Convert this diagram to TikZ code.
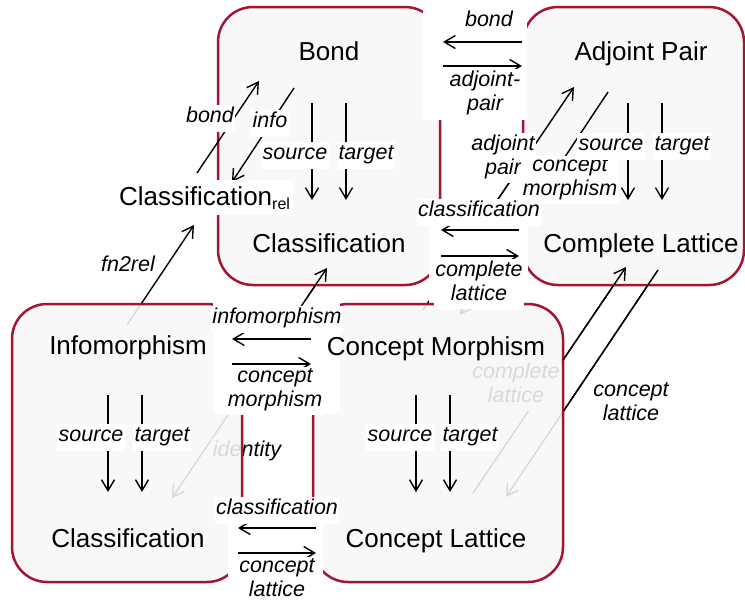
\documentclass[tikz,border=0pt]{standalone}
\usepackage{fontspec}
\setmainfont{Liberation Sans}
\usetikzlibrary{arrows.meta,calc}
\definecolor{boxred}{RGB}{165,20,50}
\tikzset{
  >={Straight Barb[length=11pt,width=13pt]},
  box/.style={draw=boxred, line width=2.5pt, rounded corners=35pt, fill=black!3, fill opacity=0.88, inner sep=0pt, outer sep=0pt},
  big/.style={font=\fontsize{26}{30}\selectfont, anchor=base, inner sep=0pt},
  lbl/.style={font=\fontsize{21.5}{24}\selectfont\itshape, fill=white, inner sep=1.5pt, align=center,
              execute at begin node=\strut, execute at end node=\strut},
  arr/.style={line width=1.4pt, ->},
  ln/.style={line width=1.4pt},
  gap/.style={fill=white, draw=none, inner sep=0pt, outer sep=0pt, anchor=north west},
}
\begin{document}
\begin{tikzpicture}[x=1pt,y=-1pt]
\useasboundingbox (0,0) rectangle (745,606);

% end points of the diagonal connectors
\coordinate (f0) at (127,325); \coordinate (f1) at (194,225);
\coordinate (b0) at (197,173); \coordinate (b1) at (259,81);
\coordinate (i0) at (294,88);  \coordinate (i1) at (232,182);
\coordinate (d0) at (172,498); \coordinate (d1) at (327,268);
\coordinate (a0) at (423,310); \coordinate (a1) at (574,87);
\coordinate (c0) at (608,92);  \coordinate (c1) at (460,315);
\coordinate (l0) at (473,493); \coordinate (l1) at (626,267);
\coordinate (k0) at (658,270); \coordinate (k1) at (506,497);

% connectors passing behind the boxes (seen faded)
\draw[arr] (f0) -- (f1);
\draw[line width=1.4pt, <->] (d0) -- (d1);
\draw[arr] (a0) -- (a1);
\draw[arr] (c0) -- (c1);
\draw[arr] (l0) -- (l1);
\draw[arr] (k0) -- (k1);
\node[lbl] (lid) at (247,452) {identity};
\node[lbl] (lcl4) at (516,386) {complete\\lattice};

% the four category boxes
\node[box, minimum width=222pt, minimum height=278pt] (tl) at (329,146) {};
\node[box, minimum width=221pt, minimum height=278pt] (tr) at (633.5,146) {};
\node[box, minimum width=230pt, minimum height=278pt] (bl) at (127,443) {};
\node[box, minimum width=250pt, minimum height=278pt] (br) at (438,443) {};

% white backgrounds of the arrow groups between boxes
\node[gap, minimum width=104pt, minimum height=120pt] (g1) at (423,0) {};
\node[gap, minimum width=99pt, minimum height=102pt] (g2) at (429,200) {};
\node[gap, minimum width=127pt, minimum height=113pt] (g3) at (213,300) {};
\node[gap, minimum width=95pt, minimum height=109pt] (g4) at (228,497) {};

% visible parts of the diagonal connectors
\draw[arr] ($(d0)!0.835!(d1)$) -- (d1);
\draw[arr] ($(a0)!0.49!(a1)$) -- (a1);
\draw[ln] (c0) -- ($(c0)!0.5!(c1)$);
\draw[arr] ($(l0)!0.588!(l1)$) -- (l1);
\draw[ln] (k0) -- ($(k0)!0.62!(k1)$);
\draw[arr] (b0) -- (b1);
\draw[arr] (i0) -- (i1);

% horizontal arrows
\coordinate (h1r) at (522,42);  \coordinate (h1l) at (443,42);
\coordinate (h2l) at (443,66);  \coordinate (h2r) at (522,66);
\coordinate (h3r) at (519,230); \coordinate (h3l) at (441,230);
\coordinate (h4l) at (441,256); \coordinate (h4r) at (519,256);
\coordinate (h5r) at (311,339); \coordinate (h5l) at (232,339);
\coordinate (h6l) at (232,364); \coordinate (h6r) at (311,364);
\coordinate (h7r) at (316,528); \coordinate (h7l) at (238,528);
\coordinate (h8l) at (238,553); \coordinate (h8r) at (316,553);
\draw[arr] (h1r) -- (h1l);
\draw[arr] (h2l) -- (h2r);
\draw[arr] (h3r) -- (h3l);
\draw[arr] (h4l) -- (h4r);
\draw[arr] (h5r) -- (h5l);
\draw[arr] (h6l) -- (h6r);
\draw[arr] (h7r) -- (h7l);
\draw[arr] (h8l) -- (h8r);

% vertical source / target arrows
\foreach \n/\x/\ya/\yb in {s1/312/103/200, t1/346/103/200, s2/628/103/200, t2/662/103/200,
                           s3/108/395/492, t3/142/395/492, s4/416/395/492, t4/450/395/492}{
  \coordinate (\n a) at (\x,\ya);
  \coordinate (\n b) at (\x,\yb);
  \draw[arr] (\n a) -- (\n b);
}

% category texts
\node[big] (bond) at (329,60) {Bond};
\node[big] (cls1) at (329,252) {Classification};
\node[big] (adj) at (641,60) {Adjoint Pair};
\node[big] (cpl) at (641,252) {Complete Lattice};
\node[big] (inf) at (128,354) {Infomorphism};
\node[big] (cls2) at (128,547) {Classification};
\node[big] (cm) at (436,355) {Concept Morphism};
\node[big] (cl) at (436,547) {Concept Lattice};
\node[big, fill=white, inner xsep=3pt, inner ysep=6pt] (clsrel) at (204.5,205)
  {Classification\raisebox{-4pt}{\fontsize{16}{16}\selectfont rel}};

% labels
\node[lbl] (lbond) at (210,118) {bond};
\node[lbl] (linfo) at (270,123) {info};
\node[lbl] (lsrc1) at (295,155) {source};
\node[lbl] (ltgt1) at (366,155) {target};
\node[lbl] (lfn) at (128,267) {fn2rel};
\node[lbl] (lbond2) at (489,22) {bond};
\node[lbl] (ladj) at (485,94) {adjoint-\\pair};
\node[lbl] (ladjp) at (503,158) {adjoint\\pair};
\node[lbl] (lcm) at (570,180) {concept\\morphism};
\node[lbl] (lsrc2) at (611,146) {source};
\node[lbl] (ltgt2) at (682,146) {target};
\node[lbl] (lcls1) at (479,212) {classification};
\node[lbl] (lcl1) at (479,284) {complete\\lattice};
\node[lbl] (linf) at (277,319) {infomorphism};
\node[lbl] (lcm2) at (275,391) {concept\\morphism};
\node[lbl] (lsrc3) at (91,437) {source};
\node[lbl] (ltgt3) at (162,437) {target};
\node[lbl] (lsrc4) at (400,437) {source};
\node[lbl] (ltgt4) at (470,437) {target};
\node[lbl] (lcls2) at (277,510) {classification};
\node[lbl] (lcl2) at (277,581) {concept\\lattice};
\node[lbl] (lcl3) at (631,405) {concept\\lattice};
\end{tikzpicture}
\end{document}
